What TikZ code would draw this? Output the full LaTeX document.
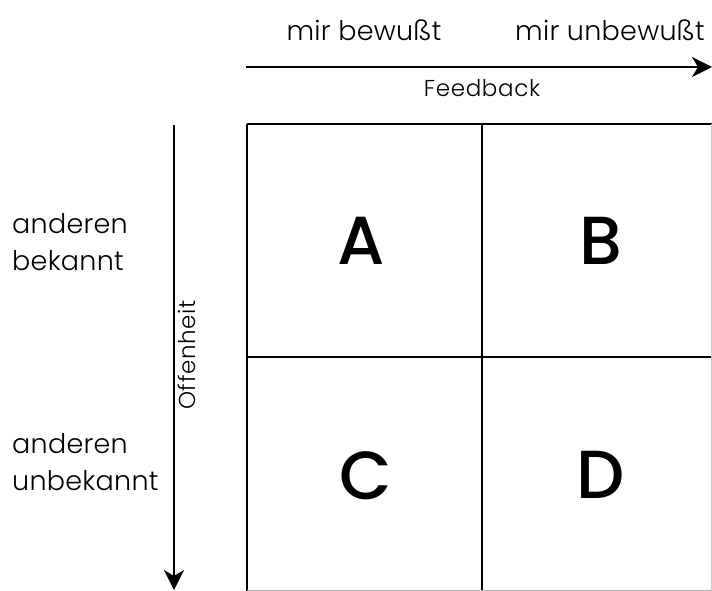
\documentclass[tikz,border=0pt]{standalone}
\usepackage{fontspec}
\setmainfont{Poppins}[UprightFont=* Light, BoldFont=* Medium]
\usetikzlibrary{arrows.meta}
\tikzset{
  gridline/.style={line width=2pt, black},
  axis/.style={line width=2pt, -{Stealth[length=20pt,width=20pt,inset=6pt]}},
  label/.style={font=\fontsize{27}{37}\selectfont\addfontfeature{LetterSpace=1}, inner sep=0pt},
  small/.style={font=\fontsize{23}{26}\selectfont\addfontfeature{LetterSpace=3}, inner sep=0pt},
  quad/.style={font=\fontsize{68}{70}\selectfont\bfseries, inner sep=0pt}
}
\begin{document}
\begin{tikzpicture}[x=1pt,y=-1pt]
\useasboundingbox (0,0) rectangle (712,591);
% grid
\draw[gridline] (247,124) -- (712,124);
\draw[gridline] (247,124) -- (247,591);
\draw[gridline] (482,124) -- (482,591);
\draw[gridline] (247,357) -- (712,357);
\draw[line width=1pt, black!30] (247,590) -- (712,590);
\draw[line width=1pt, black!20] (711,124) -- (711,591);
% axes
\coordinate (hs) at (246,67);
\coordinate (he) at (712,67);
\draw[axis] (hs) -- (he);
\coordinate (vs) at (174,125);
\coordinate (ve) at (174,590);
\draw[axis] (vs) -- (ve);
% labels
\node[label] (mb) at (364,30) {mir bewußt};
\node[label] (mu) at (610,30) {mir unbewußt};
\node[small] (fb) at (482,88) {Feedback};
\node[small, rotate=90] (of) at (187,355) {Offenheit};
\node[label, align=left, anchor=base west] (ab) at (12,270) {anderen\\bekannt};
\node[label, align=left, anchor=base west] (au) at (12,490) {anderen\\unbekannt};
% quadrants
\node[quad] (A) at (361,241) {A};
\node[quad] (B) at (601,241) {B};
\node[quad] (C) at (366,476) {C};
\node[quad] (D) at (601,475) {D};
\end{tikzpicture}
\end{document}
